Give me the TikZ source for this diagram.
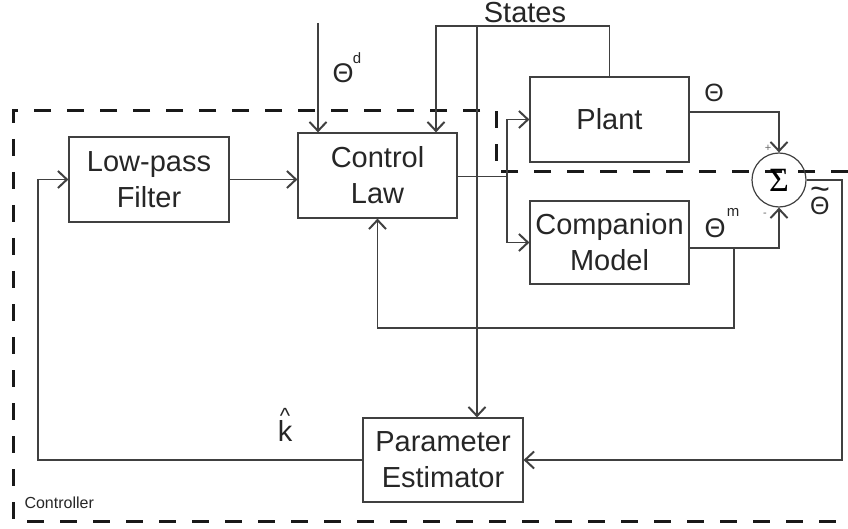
\documentclass[tikz,border=0pt]{standalone}
\usepackage{fontspec}
\setmainfont{Liberation Sans}
\newfontfamily\sumfont{Liberation Serif}
\usetikzlibrary{arrows.meta}

\begin{document}
\begin{tikzpicture}[x=1pt,y=-1pt,
  line/.style={draw=black!75,line width=1.2pt},
  arr/.style={line,-{Straight Barb[length=9pt,width=17pt,line width=2pt]}},
  block/.style={draw=black!75,line width=1.2pt,align=center,inner sep=0pt,text=black!85,font=\fontsize{29}{36}\selectfont},
  lab/.style={text=black!85,inner sep=0pt,font=\fontsize{27}{30}\selectfont},
  suplab/.style={text=black!85,inner sep=0pt,font=\fontsize{15}{17}\selectfont},
  boundary/.style={draw=black!90,line width=3pt,dash pattern=on 17pt off 16pt}]
  \useasboundingbox (0,0) rectangle (848,529);
  \draw[boundary] (848,172) -- (496,172) -- (496,111) -- (13,111) -- (13,521) -- (848,521);
  \node[text=black!85,anchor=west,font=\fontsize{16}{18}\selectfont] (ctrl) at (21,503) {Controller};

  \node[block,minimum width=160pt,minimum height=85pt] (lpf) at (149,179.5) {Low-pass\\Filter};
  \node[block,minimum width=159pt,minimum height=85pt] (law) at (377.5,175.5) {Control\\Law};
  \node[block,minimum width=159pt,minimum height=85pt] (plant) at (609.5,119.5) {Plant};
  \node[block,minimum width=159pt,minimum height=83pt] (model) at (609.5,242.5) {Companion\\Model};
  \node[block,minimum width=160pt,minimum height=84pt] (est) at (443,460) {Parameter\\Estimator};
  \node[circle,draw=black!75,line width=1.2pt,minimum size=54pt,inner sep=0pt] (sum) at (779,180) {\sumfont\fontsize{34}{36}\selectfont Σ};

  \node[block,draw=none] (states) at (525,13) {States};
  \coordinate (thd) at (318,23);
  \coordinate (sl) at (436,26);
  \coordinate (sbus) at (477,26);
  \coordinate (split) at (507,176.5);
  \coordinate (mfb) at (734,248);
  \coordinate (ec) at (842,180);
  \coordinate (kc) at (38,460);

  \draw[arr] (thd) -- (thd |- law.north);
  \draw[arr] (plant.north) |- (sl) -- (sl |- law.north);
  \draw[arr] (sbus) -- (sbus |- est.north);
  \draw[arr] (lpf.east) -- (lpf.east -| law.west);
  \draw[line] (law.east |- split) -- (split);
  \draw[arr] (split) |- (plant.west);
  \draw[arr] (split) |- (model.west);
  \draw[arr] ([yshift=7.5pt]plant.east) -| (sum.north);
  \draw[arr] ([yshift=-5.5pt]model.east) -| (sum.south);
  \draw[arr] (mfb) -- ++(0,80) -| (law.south);
  \draw[arr] (sum.east) -- (ec) |- (est.east);
  \draw[arr] (est.west) -- (kc) |- (lpf.west);

  \node[lab] (thdlab) at (343,73) {Θ};
  \node[suplab] at (357,58) {d};
  \node[lab,font=\fontsize{25}{28}\selectfont] (thlab) at (714,93) {Θ};
  \node[lab] (thmlab) at (715,228) {Θ};
  \node[suplab] at (733,212) {m};
  \node[lab,font=\fontsize{25}{28}\selectfont] (thtlab) at (820,201)
    {\ooalign{\hfil\raisebox{14pt}{\fontsize{34}{34}\selectfont\textasciitilde}\hfil\cr Θ\cr}};
  \node[suplab,font=\fontsize{11}{12}\selectfont,text=black!60] at (768,148) {+};
  \node[suplab,font=\fontsize{11}{12}\selectfont,text=black!60] at (765,215) {-};
  \node[lab,font=\fontsize{29}{30}\selectfont] (klab) at (285,425)
    {\ooalign{\hfil\raisebox{18.5pt}{\fontsize{22}{24}\selectfont\textasciicircum}\hfil\cr k\cr}};
\end{tikzpicture}
\end{document}
